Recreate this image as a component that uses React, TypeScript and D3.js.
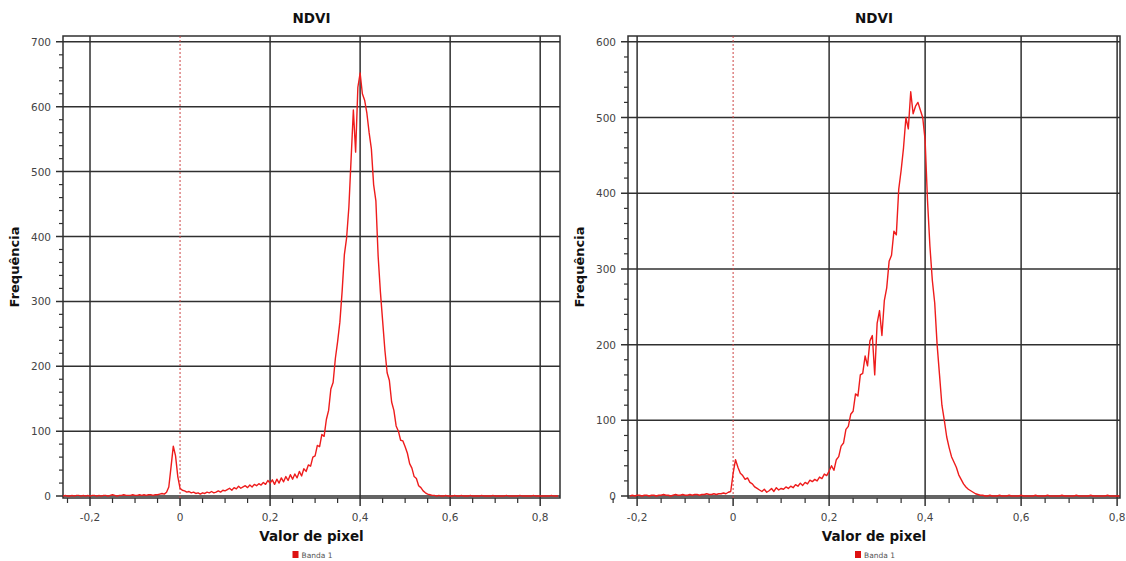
import React from "react";
import * as d3 from "d3";

// bins of 0.005
const leftStart = -0.26;
const leftStep = 0.005;
const leftCounts = [
  0, 1, 0, 0, 1, 0, 1, 1, 0, 1, 0, 1, 0, 1, 1, 0, 1, 0, 1, 1, 0, 1, 2, 1, 0, 1, 1, 2, 1, 1,
  1, 2, 1, 1, 2, 1, 2, 1, 2, 2, 1, 2, 2,
  3, 4, 3, 6, 14, 45, 77, 62, 30,
  12, 9, 8, 6, 7, 5, 6, 4, 5, 3,
  5, 4, 6, 5, 7, 5, 6, 8, 6, 9,
  8, 10, 12, 9, 13, 11, 15, 12, 14, 16,
  13, 17, 14, 18, 16, 19, 17, 21, 18, 24,
  20, 25, 18, 26, 20, 28, 22, 30, 24, 33,
  26, 34, 28, 38, 31, 42, 38, 48, 46, 60,
  62, 78, 76, 95, 92, 118, 132, 165, 175, 212,
  238, 268, 315, 372, 398, 445, 520, 595, 530, 630,
  652, 620, 610, 590, 560, 535, 480, 455, 370, 315,
  270, 225, 190, 178, 145, 132, 108, 100, 86, 85,
  76, 66, 50, 43, 30, 27, 16, 13, 8, 5,
  3, 2, 1,
  1, 0, 1, 0, 0, 1, 0, 0, 0, 1, 0, 0, 1, 0, 0, 0, 1, 0, 0, 0, 0, 1, 0, 0, 0, 0, 1, 0, 0, 0,
  0, 0, 1, 0, 0, 0, 0, 0, 1, 0, 0, 0, 0, 0, 1, 0, 0, 0, 0, 0, 0, 0, 1, 0, 0, 0,
];

const rightStart = -0.215;
const rightStep = 0.005;
const rightCounts = [
  0, 1, 0, 1, 1, 0, 1, 1, 0, 1, 1, 0, 1, 1, 2, 1, 1, 0, 1, 2, 1, 1, 2, 1, 1, 2, 1, 2, 2, 1,
  2, 2, 3, 2, 2, 3, 2, 3,
  3, 4, 3, 5, 6,
  30, 48, 38, 30, 27, 22, 24, 18, 16, 12,
  10, 8, 6, 9, 5, 7, 10, 6, 11, 8,
  10, 9, 12, 10, 13, 11, 15, 13, 17, 14,
  18, 16, 21, 19, 22, 20, 25, 23, 29, 27,
  33, 40, 34, 48, 52, 66, 70, 88, 92, 108,
  112, 135, 132, 160, 162, 185, 172, 205, 212, 160,
  228, 245, 212, 258, 275, 310, 318, 350, 345, 405,
  430, 460, 500, 485, 534, 505, 515, 520, 510, 500,
  470, 390, 330, 285, 255, 200, 160, 120, 100, 78,
  64, 52, 45, 38, 28, 22, 16, 12, 9, 7,
  5, 3, 2, 1,
  1, 0, 0, 1, 0, 0, 0, 1, 0, 0, 0, 1, 0, 0, 0, 0, 1, 0, 0, 0, 0, 0, 1, 0, 0, 0, 0, 1, 0, 0,
  0, 0, 0, 1, 0, 0, 0, 0, 0, 1, 0, 0, 0, 0, 0, 1, 0, 0, 0, 0, 0, 0, 1, 0, 0, 0, 0, 0,
];

const xMajor = [-0.2, 0, 0.2, 0.4, 0.6, 0.8];
const xMinor = [-0.25, -0.15, -0.1, -0.05, 0.05, 0.1, 0.15, 0.25, 0.3, 0.35, 0.45, 0.5, 0.55, 0.65, 0.7, 0.75];
const leftYMajor = [0, 100, 200, 300, 400, 500, 600, 700];
const rightYMajor = [0, 100, 200, 300, 400, 500, 600];

const title = "NDVI";
const xTitle = "Valor de pixel";
const yTitle = "Frequência";
const legendLabel = "Banda 1";

const FONT = "DejaVu Sans, Verdana, sans-serif";
const fmt = (v: number) => (Math.abs(v) < 1e-9 ? "0" : d3.format(".1f")(v).replace(".", ",").replace("−", "-"));

type Props = {
  counts: number[];
  start: number;
  step: number;
  left: number;
  right: number;
  xDomain: [number, number];
  yDomain: [number, number];
  yMajor: number[];
};

function Histogram({ counts, start, step, left, right, xDomain, yDomain, yMajor }: Props) {
  const top = 36;
  const bottom = 498;
  const x = d3.scaleLinear().domain(xDomain).range([left, right]);
  const y = d3.scaleLinear().domain(yDomain).range([bottom, top]);
  const pts: [number, number][] = counts.map((c, i) => [start + i * step, c]);
  const line = d3
    .line<[number, number]>()
    .x((d) => x(d[0]))
    .y((d) => y(d[1]));

  const yMinor: number[] = [];
  for (let v = 20; v < yDomain[1]; v += 20) if (v % 100 !== 0) yMinor.push(v);

  const cx = (left + right) / 2;
  const grid = "#303030";

  return (
    <g>
      <text x={cx} y={23} textAnchor="middle" fontFamily={FONT} fontWeight="bold" fontSize={13.5} fill="#111">
        {title}
      </text>
      <text
        transform={`translate(${left - 44},${(top + bottom) / 2}) rotate(-90)`}
        textAnchor="middle"
        fontFamily={FONT}
        fontWeight="bold"
        fontSize={13}
        fill="#111"
      >
        {yTitle}
      </text>

      {/* horizontal grid + y ticks */}
      {yMajor.map((v) => (
        <g key={"y" + v}>
          <line x1={left - 7} x2={right} y1={y(v)} y2={y(v)} stroke={grid} strokeWidth={1.5} />
          <text x={left - 12} y={y(v) + 4} textAnchor="end" fontFamily={FONT} fontSize={10.5} fill="#444">
            {v}
          </text>
        </g>
      ))}
      {yMinor.map((v) => (
        <line key={"ym" + v} x1={left - 4} x2={left} y1={y(v)} y2={y(v)} stroke={grid} strokeWidth={1.2} />
      ))}

      {/* vertical grid + x ticks */}
      {xMajor.map((v) => (
        <g key={"x" + v}>
          {v !== 0 ? (
            <line x1={x(v)} x2={x(v)} y1={top} y2={bottom + 8} stroke={grid} strokeWidth={1.5} />
          ) : (
            <line x1={x(v)} x2={x(v)} y1={bottom} y2={bottom + 8} stroke={grid} strokeWidth={1.5} />
          )}
          <text x={x(v)} y={bottom + 23} textAnchor="middle" fontFamily={FONT} fontSize={10.5} fill="#444">
            {fmt(v)}
          </text>
        </g>
      ))}
      {xMinor.map((v) => (
        <line key={"xm" + v} x1={x(v)} x2={x(v)} y1={bottom} y2={bottom + 5} stroke={grid} strokeWidth={1.2} />
      ))}

      {/* frame */}
      <rect x={left} y={top} width={right - left} height={bottom - top} fill="none" stroke={grid} strokeWidth={1.5} />

      {/* zero marker */}
      <line x1={x(0)} x2={x(0)} y1={top} y2={bottom} stroke="#cc4444" strokeWidth={1} strokeDasharray="2,2" />

      <path d={line(pts) ?? ""} fill="none" stroke="#ee1c1c" strokeWidth={1.4} strokeLinejoin="round" />

      <text x={cx} y={541} textAnchor="middle" fontFamily={FONT} fontWeight="bold" fontSize={13.5} fill="#111">
        {xTitle}
      </text>
      <rect x={cx - 19} y={551} width={6} height={7} fill="#dd1111" />
      <text x={cx - 10} y={558} fontFamily={FONT} fontSize={7.5} fill="#555">
        {legendLabel}
      </text>
    </g>
  );
}

export default function App() {
  return (
    <svg
      width={1126}
      height={561}
      style={{ position: "absolute", left: 0, top: 0, background: "#fff" }}
    >
      <Histogram
        counts={leftCounts}
        start={leftStart}
        step={leftStep}
        left={63}
        right={560}
        xDomain={[-0.26, 0.844]}
        yDomain={[-3, 709]}
        yMajor={leftYMajor}
      />
      <Histogram
        counts={rightCounts}
        start={rightStart}
        step={rightStep}
        left={628}
        right={1120}
        xDomain={[-0.219, 0.806]}
        yDomain={[-2.6, 607.7]}
        yMajor={rightYMajor}
      />
    </svg>
  );
}
